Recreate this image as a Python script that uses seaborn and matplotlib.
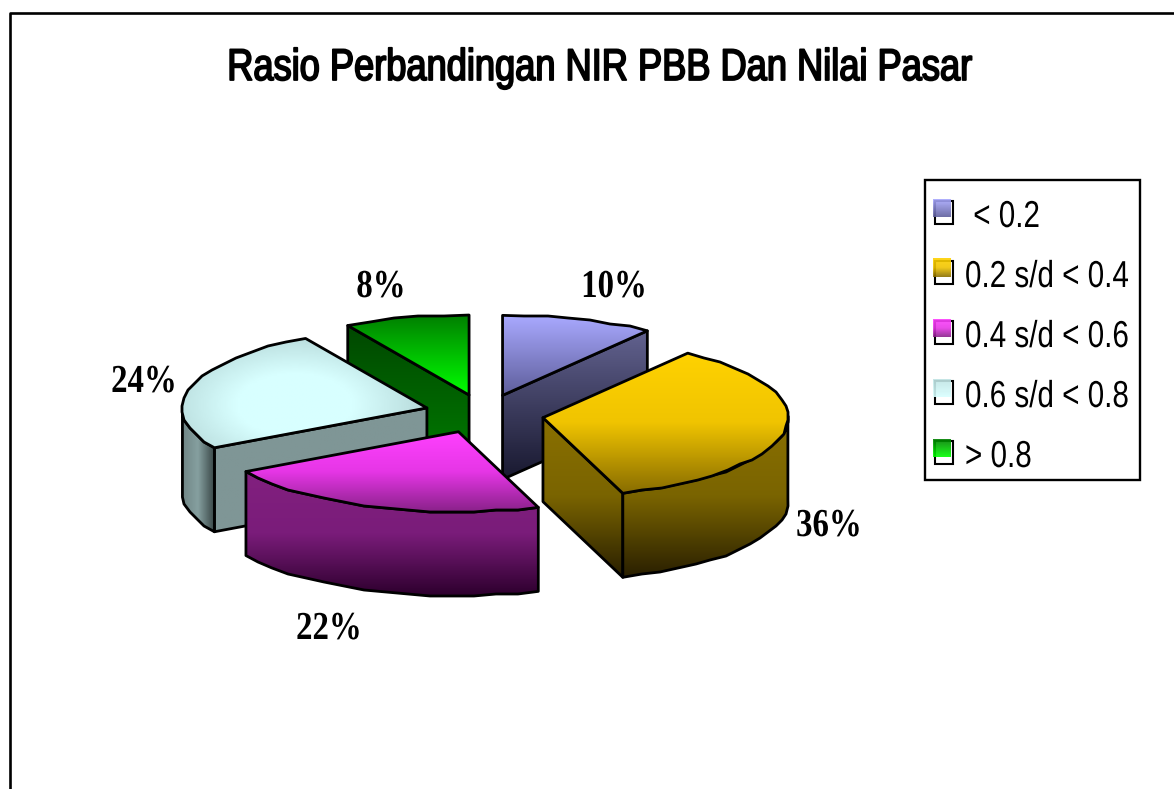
import matplotlib
matplotlib.use("Agg")
import matplotlib.pyplot as plt
import matplotlib.patheffects as pe
from matplotlib.transforms import Affine2D
import seaborn as sns
import numpy as np

title = "Rasio Perbandingan NIR PBB Dan Nilai Pasar"
categories = [" < 0.2", "0.2 s/d < 0.4", "0.4 s/d < 0.6", "0.6 s/d < 0.8", "> 0.8"]
values = [10, 36, 22, 24, 8]

top_colors = [["#a9a9ff", "#5f5f9c"], ["#ffd200", "#f0c400", "#8a6e00"], ["#ff40ff", "#e636e6", "#8a228a"],
              ["#c0e4e4", "#d8ffff"], ["#008000", "#00ff00"]]
side_colors = [["#62628f", "#191930"], ["#8a7000", "#7a6400", "#2a2000"], ["#82207f", "#7a1c7a", "#2e002e"],
               ["#7f9696", "#7f9696"], ["#004800", "#008000"]]

sns.set_theme(style="white")
plt.rcParams['font.family'] = ['Liberation Sans', 'DejaVu Sans']

W, H = 1174, 789
fig = plt.figure(figsize=(W / 100, H / 100), dpi=100)
ax = fig.add_axes([0, 0, 1, 1])
ax.set_xlim(0, W)
ax.set_ylim(H, 0)
ax.axis("off")

# pie geometry in pixels
cx, cy = 484, 414
rx, ry = 245, 80
depth = 84
explode = 0.245
lw = 2.0


class Squeeze(pe.AbstractPathEffect):
    # text is too wide without this, the original font is a narrow one
    def __init__(self, sx, x0, stroke=0):
        super().__init__()
        self.sx = sx
        self.x0 = x0
        self.stroke = stroke

    def draw_path(self, renderer, gc, tpath, affine, rgbFace=None):
        squeeze = Affine2D().translate(-self.x0, 0).scale(self.sx, 1).translate(self.x0, 0)
        gc0 = renderer.new_gc()
        gc0.copy_properties(gc)
        if self.stroke:
            gc0.set_linewidth(self.stroke)
            gc0.set_foreground("black")
        renderer.draw_path(gc0, tpath, affine + squeeze, rgbFace)
        gc0.restore()


def put_text(x, y, s, sx, stroke=0, **kw):
    t = ax.text(x, y, s, va="baseline", zorder=50, color="black", **kw)
    x0 = ax.transData.transform((x, y))[0]
    t.set_path_effects([Squeeze(sx, x0, stroke)])
    return t


def warp(deg):
    # the 3d view pulls the front of the pie round a little
    th = np.radians(deg)
    return deg - 2.5 * (1 - np.cos(th)) + 1.2 * np.sin(th)


def arc(ox, oy, a, b):
    # a, b in degrees clockwise from the top of the pie
    n = max(int(abs(b - a) / 5), 1)
    th = np.radians(warp(np.linspace(a, b, n + 1)))
    x = ox + rx * np.sin(th)
    y = oy - ry * np.cos(th)
    if n > 1:
        # the original outline is slightly rippled
        x[1:-1] = np.round(x[1:-1] / 2) * 2
        y[1:-1] = np.round(y[1:-1] / 2) * 2
    return np.column_stack([x, y])


def gradient_face(pts, colors, z, box=None, img=None):
    pts = np.asarray(pts)
    xmin, ymin = pts.min(axis=0)
    xmax, ymax = pts.max(axis=0)
    if box is not None:
        ymin, ymax = box
    if img is None:
        img = np.array(sns.blend_palette(colors, 64))[:, None, :]
    im = ax.imshow(img, extent=(xmin, xmax, ymax, ymin), origin="upper",
                   aspect="auto", interpolation="bilinear", zorder=z)
    poly = ax.fill(pts[:, 0], pts[:, 1], facecolor="none", edgecolor="black",
                   linewidth=lw, joinstyle="round", zorder=z + 0.1)[0]
    im.set_clip_path(poly)


fractions = np.array(values) / sum(values)
ends = np.cumsum(fractions) * 360
starts = ends - fractions * 360
order = [0, 4, 3, 1, 2]  # painter order, back slices first

for k, i in enumerate(order):
    a, b = starts[i], ends[i]
    mid = np.radians((a + b) / 2)
    ox = cx + explode * rx * np.sin(mid)
    oy = cy - explode * ry * np.cos(mid)
    z = 10 + k * 2
    top = arc(ox, oy, a, b)
    apex = np.array([ox, oy])
    drop = np.array([0, depth])

    faces = []
    if np.sin(np.radians(a)) < -1e-6:
        faces.append([apex, top[0], top[0] + drop, apex + drop])
    if np.sin(np.radians(b)) > 1e-6:
        faces.append([apex, top[-1], top[-1] + drop, apex + drop])
    lo, hi = max(a, 90), min(b, 270)
    band = None
    if hi > lo:
        edge = arc(ox, oy, lo, hi)
        band = np.vstack([edge, (edge + drop)[::-1]])

    allpts = np.vstack([np.array(f) for f in faces] + ([band] if band is not None else []))
    box = (allpts[:, 1].min(), allpts[:, 1].max())
    for f in faces:
        gradient_face(f, side_colors[i], z, box=box)
    if band is not None:
        if i == 3:
            # the pale slice is shaded sideways on its rim
            shade = np.array(sns.blend_palette(["#6f8585", "#86a0a0", "#3c4a4a"], 64))[None, :, :]
            gradient_face(band, None, z + 0.2, img=shade)
        else:
            gradient_face(band, side_colors[i], z + 0.2, box=box)

    face = np.vstack([apex, top])
    if i == 3:
        # same slice has a soft round highlight on top
        xmin, ymin = face.min(axis=0)
        xmax, ymax = face.max(axis=0)
        gx, gy = np.meshgrid(np.linspace(xmin, xmax, 120), np.linspace(ymin, ymax, 80))
        d = np.hypot((gx - 295) / 165, (gy - 405) / 90)
        d = np.clip((d - 0.35) / 0.65, 0, 1)
        pale = np.array(sns.blend_palette(top_colors[3][::-1] + ["#a0c2c2"], 64))
        gradient_face(face, None, z + 0.4, img=pale[(d * 63).astype(int)])
    else:
        gradient_face(face, top_colors[i], z + 0.4)

ax.set_xlim(0, W)
ax.set_ylim(H, 0)

# chart frame runs off the right and bottom of the picture
ax.plot([9.5, 9.5, W + 5], [H + 5, 12.5, 12.5], color="black", lw=1.9, zorder=1)

put_text(600, 80, title, 0.815, stroke=1.3, fontsize=32, ha="center")

label_pos = [(614, 297), (829, 536), (329, 639), (144, 392), (381, 297)]
for v, (x, y) in zip(values, label_pos):
    put_text(x, y, f"{v}%", 0.83, fontsize=28.5, fontweight="bold", ha="center",
             family=["Liberation Serif", "DejaVu Serif"])

# legend box
ax.fill([924.5, 1140, 1140, 924.5], [180, 180, 480, 480], facecolor="white",
        edgecolor="black", linewidth=1.7, zorder=30)
for i, name in enumerate(categories):
    y0 = 199 + i * 60
    ax.fill([935, 953, 953, 935], [y0 + 2, y0 + 2, y0 + 25, y0 + 25], facecolor="white",
            edgecolor="black", linewidth=1.5, zorder=31)
    sw = np.array(sns.blend_palette(top_colors[i], 32))[:, None, :]
    ax.imshow(sw, extent=(933, 951, y0 + 18, y0), origin="upper", aspect="auto",
              interpolation="bilinear", zorder=32, alpha=0.9)
    put_text(965, y0 + 28, name, 0.79, fontsize=27, ha="left")

ax.set_xlim(0, W)
ax.set_ylim(H, 0)
fig.savefig("out.png", dpi=100, facecolor="white")
